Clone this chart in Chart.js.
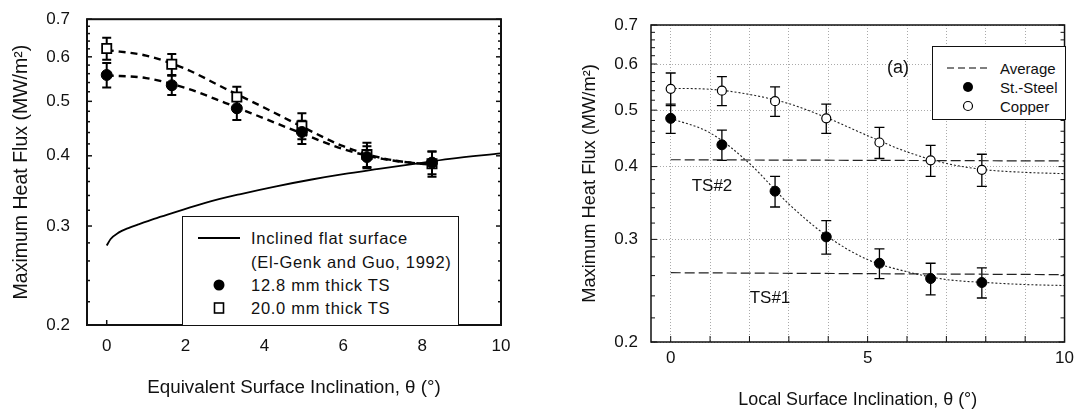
<!DOCTYPE html>
<html>
<head>
<meta charset="utf-8">
<script src="https://cdn.jsdelivr.net/npm/chart.js@4.4.1/dist/chart.umd.min.js"></script>
<style>
  html, body { margin: 0; padding: 0; background: #fff; }
  body { width: 1080px; height: 416px; position: relative; overflow: hidden;
         font-family: "Liberation Sans", Arial, sans-serif; color: #111; }
  canvas { position: absolute; top: 0; }
  #leftChart { left: 0; }
  #rightChart { left: 560px; }
  .box { position: absolute; border: 1.5px solid #111; background: #fff; box-sizing: border-box; }
  .txt { position: absolute; white-space: nowrap; line-height: 1; transform: translateY(-50%); }
  .mid { transform: translate(-50%, -50%); }
  .lg { font-size: 16.5px; letter-spacing: 0.7px; }
  svg.sym { position: absolute; left: 0; top: 0; }
</style>
</head>
<body>
<canvas id="leftChart" width="540" height="416"></canvas>
<canvas id="rightChart" width="520" height="416"></canvas>

<!-- left legend -->
<div class="box" style="left:182px; top:216px; width:277px; height:110px;"></div>
<div class="txt lg" style="left:251px; top:238px;">Inclined flat surface</div>
<div class="txt lg" style="left:251px; top:262px;">(El-Genk and Guo, 1992)</div>
<div class="txt lg" style="left:251px; top:285px;">12.8 mm thick TS</div>
<div class="txt lg" style="left:251px; top:308px;">20.0 mm thick TS</div>

<!-- right legend + notes -->
<div class="box" style="left:932px; top:46px; width:134px; height:74px;"></div>
<div class="txt" style="left:1000px; top:68px; font-size:15px;">Average</div>
<div class="txt" style="left:1000px; top:87px; font-size:15px;">St.-Steel</div>
<div class="txt" style="left:1000px; top:106px; font-size:15px;">Copper</div>
<div class="txt mid" style="left:898px; top:67px; font-size:18px;">(a)</div>
<div class="txt mid" style="left:712px; top:185px; font-size:17px;">TS#2</div>
<div class="txt mid" style="left:770px; top:297px; font-size:17px;">TS#1</div>

<svg class="sym" width="1080" height="416">
  <line x1="198" y1="238" x2="240" y2="238" stroke="#000" stroke-width="2"/>
  <circle cx="219" cy="285" r="5.5" fill="#000"/>
  <rect x="214.5" y="303" width="9" height="10" fill="#fff" stroke="#000" stroke-width="1.6"/>
  <line x1="947" y1="68" x2="990" y2="68" stroke="#000" stroke-width="1.2" stroke-dasharray="7,4"/>
  <circle cx="968" cy="87" r="5" fill="#000"/>
  <circle cx="968" cy="106" r="4.5" fill="#fff" stroke="#000" stroke-width="1.2"/>
</svg>

<script>
// ---- left panel: equivalent inclination ----
const leftPtX = [0, 1.65, 3.3, 4.95, 6.6, 8.25];
const thinTS = [0.557, 0.534, 0.486, 0.441, 0.398, 0.389];   // 12.8 mm
const thinErr = [0.028, 0.021, 0.023, 0.021, 0.018, 0.018];
const thickTS = [0.621, 0.582, 0.509, 0.452, 0.402, 0.387];  // 20.0 mm
const thickErr = [0.028, 0.025, 0.022, 0.024, 0.020, 0.020];
const leftFitX = [0, 1, 2, 3, 4, 5, 6, 7, 8, 8.25];
const thinFit = [0.556, 0.550, 0.528, 0.497, 0.466, 0.437, 0.411, 0.395, 0.387, 0.386];
const thickFit = [0.617, 0.603, 0.571, 0.527, 0.487, 0.449, 0.416, 0.396, 0.387, 0.386];
const flatX = [0, 0.1, 0.3, 0.55, 0.8, 1.2, 1.7, 2.5, 3.4, 4.3, 5.2, 6, 6.9, 7.8, 8.7, 10];
const flatY = [0.277, 0.2845, 0.292, 0.2975, 0.302, 0.309, 0.317, 0.330, 0.342, 0.353, 0.363, 0.371, 0.379, 0.387, 0.395, 0.404];
const leftXTicks = [0, 2, 4, 6, 8, 10];

// ---- right panel: local inclination ----
const rightPtX = [0, 1.3, 2.65, 3.95, 5.3, 6.6, 7.9];
const copper = [0.544, 0.540, 0.518, 0.484, 0.440, 0.410, 0.395];
const copperErr = [0.035, 0.031, 0.030, 0.028, 0.027, 0.025, 0.025];
const steel = [0.484, 0.436, 0.363, 0.303, 0.273, 0.257, 0.253];
const steelErr = [0.028, 0.026, 0.022, 0.020, 0.016, 0.016, 0.015];
const rightFitX = [0, 1, 2, 3, 4, 5, 6, 7, 8, 9, 10];
const copperFit = [0.545, 0.543, 0.532, 0.513, 0.484, 0.452, 0.424, 0.405, 0.395, 0.391, 0.389];
const steelFit = [0.484, 0.457, 0.405, 0.345, 0.303, 0.277, 0.264, 0.256, 0.253, 0.251, 0.250];
const avgX = [0, 10];
const avgTS2 = [0.411, 0.409];
const avgTS1 = [0.263, 0.261];
const rightXTicks = [0, 1, 2, 3, 4, 5, 6, 7, 8, 9, 10];
const rightXLabels = [0, 5, 10];

const yMajor = [0.2, 0.3, 0.4, 0.5, 0.6, 0.7];
const yMinor = [0.22, 0.24, 0.26, 0.28, 0.32, 0.34, 0.36, 0.38, 0.42, 0.44, 0.46, 0.48,
                0.52, 0.54, 0.56, 0.58, 0.62, 0.64, 0.66, 0.68];

Chart.defaults.font.family = '"Liberation Sans", Arial, sans-serif';
Chart.defaults.color = '#111';

function pts(xs, ys) {
  return xs.map((x, i) => ({ x: x, y: ys[i] }));
}

// box round the plot and short ticks pointing inwards
function makeFrame(cfg) {
  return {
    id: 'frame',
    afterDraw(chart) {
      const { ctx, chartArea: a, scales: { x, y } } = chart;
      ctx.save();
      ctx.strokeStyle = '#111';
      const seg = (x1, y1, x2, y2) => { ctx.beginPath(); ctx.moveTo(x1, y1); ctx.lineTo(x2, y2); ctx.stroke(); };
      ctx.lineWidth = cfg.tickWidth;
      yMajor.forEach(v => {
        const py = y.getPixelForValue(v);
        seg(a.left, py, a.left + cfg.major, py);
        seg(a.right, py, a.right - cfg.major, py);
      });
      yMinor.forEach(v => {
        const py = y.getPixelForValue(v);
        seg(a.left, py, a.left + cfg.minor, py);
        seg(a.right, py, a.right - cfg.minor, py);
      });
      cfg.xTicks.forEach(v => {
        const px = x.getPixelForValue(v);
        seg(px, a.bottom, px, a.bottom - cfg.major);
      });
      ctx.lineWidth = cfg.width;
      ctx.strokeRect(a.left, a.top, a.right - a.left, a.bottom - a.top);
      ctx.restore();
    }
  };
}

const errorBarPlugin = {
  id: 'errorBars',
  beforeDatasetsDraw(chart) {
    const { ctx, scales: { y } } = chart;
    chart.data.datasets.forEach((ds, i) => {
      if (!ds.errorBars) return;
      const meta = chart.getDatasetMeta(i);
      ctx.save();
      ctx.strokeStyle = '#000';
      ctx.lineWidth = ds.errorWidth;
      meta.data.forEach((pt, j) => {
        const v = ds.data[j].y, e = ds.errorBars[j];
        const top = y.getPixelForValue(v + e), bot = y.getPixelForValue(v - e);
        const c = ds.capHalf;
        ctx.beginPath();
        ctx.moveTo(pt.x, top); ctx.lineTo(pt.x, bot);
        ctx.moveTo(pt.x - c, top); ctx.lineTo(pt.x + c, top);
        ctx.moveTo(pt.x - c, bot); ctx.lineTo(pt.x + c, bot);
        ctx.stroke();
      });
      ctx.restore();
    });
  }
};

const yTitle = 'Maximum Heat Flux (MW/m\u00B2)';

new Chart(document.getElementById('leftChart'), {
  type: 'scatter',
  data: {
    datasets: [
      { label: '12.8 mm thick TS', data: pts(leftPtX, thinTS), errorBars: thinErr, errorWidth: 2, capHalf: 4.5,
        pointStyle: 'circle', pointRadius: 5.5, backgroundColor: '#000', borderColor: '#000', borderWidth: 1 },
      { label: '20.0 mm thick TS', data: pts(leftPtX, thickTS), errorBars: thickErr, errorWidth: 2, capHalf: 4.5,
        pointStyle: 'rect', pointRadius: 6.5, backgroundColor: '#fff', borderColor: '#000', borderWidth: 1.8 },
      { label: 'fit 12.8', data: pts(leftFitX, thinFit), showLine: true, pointRadius: 0,
        borderColor: '#000', borderWidth: 2.4, borderDash: [7, 5], cubicInterpolationMode: 'monotone' },
      { label: 'fit 20.0', data: pts(leftFitX, thickFit), showLine: true, pointRadius: 0,
        borderColor: '#000', borderWidth: 2.4, borderDash: [7, 5], cubicInterpolationMode: 'monotone' },
      { label: 'Inclined flat surface', data: pts(flatX, flatY), showLine: true, pointRadius: 0,
        borderColor: '#000', borderWidth: 1.8, cubicInterpolationMode: 'monotone' }
    ]
  },
  options: {
    animation: false,
    responsive: false,
    layout: { padding: { top: 15, right: 39, left: 0, bottom: 0 } },
    plugins: { legend: { display: false }, tooltip: { enabled: false } },
    scales: {
      x: {
        type: 'linear', min: -0.5, max: 10,
        afterBuildTicks: s => { s.ticks = leftXTicks.map(v => ({ value: v })); },
        afterFit: s => { s.height = 91; },
        grid: { display: false }, border: { display: false },
        ticks: { padding: 3, font: { size: 17 }, callback: v => String(v) },
        title: { display: true, text: 'Equivalent Surface Inclination, \u03B8 (\u00B0)', font: { size: 18.8 }, padding: { top: 0, bottom: 16.5 } }
      },
      y: {
        type: 'logarithmic', min: 0.2, max: 0.7,
        afterBuildTicks: s => { s.ticks = yMajor.map(v => ({ value: v })); },
        afterFit: s => { s.width = 87; },
        grid: { display: false }, border: { display: false },
        ticks: { padding: 9, font: { size: 17 }, callback: v => Number(v).toFixed(1) },
        title: { display: true, text: yTitle, font: { size: 19.5 }, padding: { top: 10, bottom: 0 } }
      }
    }
  },
  plugins: [makeFrame({ width: 2, tickWidth: 1.5, major: 5, minor: 3, xTicks: leftXTicks }), errorBarPlugin]
});

new Chart(document.getElementById('rightChart'), {
  type: 'scatter',
  data: {
    datasets: [
      { label: 'St.-Steel', data: pts(rightPtX, steel), errorBars: steelErr, errorWidth: 1.3, capHalf: 5,
        pointStyle: 'circle', pointRadius: 5, backgroundColor: '#000', borderColor: '#000', borderWidth: 1 },
      { label: 'Copper', data: pts(rightPtX, copper), errorBars: copperErr, errorWidth: 1.3, capHalf: 5,
        pointStyle: 'circle', pointRadius: 4.5, backgroundColor: '#fff', borderColor: '#000', borderWidth: 1.2 },
      { label: 'steel fit', data: pts(rightFitX, steelFit), showLine: true, pointRadius: 0,
        borderColor: '#222', borderWidth: 1.1, borderDash: [2, 2], cubicInterpolationMode: 'monotone' },
      { label: 'copper fit', data: pts(rightFitX, copperFit), showLine: true, pointRadius: 0,
        borderColor: '#222', borderWidth: 1.1, borderDash: [2, 2], cubicInterpolationMode: 'monotone' },
      { label: 'Average TS#2', data: pts(avgX, avgTS2), showLine: true, pointRadius: 0,
        borderColor: '#222', borderWidth: 1.2, borderDash: [10, 4] },
      { label: 'Average TS#1', data: pts(avgX, avgTS1), showLine: true, pointRadius: 0,
        borderColor: '#222', borderWidth: 1.2, borderDash: [10, 4] }
    ]
  },
  options: {
    animation: false,
    responsive: false,
    layout: { padding: { top: 25, right: 13, left: 0, bottom: 0 } },
    plugins: { legend: { display: false }, tooltip: { enabled: false } },
    scales: {
      x: {
        type: 'linear', min: -0.5, max: 10,
        afterBuildTicks: s => { s.ticks = rightXTicks.map(v => ({ value: v })); },
        afterFit: s => { s.height = 74; },
        grid: { color: '#aaa', lineWidth: 1, drawTicks: false },
        border: { display: false, dash: [1, 2] },
        ticks: { padding: 6, font: { size: 17 }, callback: v => rightXLabels.includes(v) ? String(v) : '' },
        title: { display: true, text: 'Local Surface Inclination, \u03B8 (\u00B0)', font: { size: 17.9 }, padding: { top: 0, bottom: 5 } }
      },
      y: {
        type: 'logarithmic', min: 0.2, max: 0.7,
        afterBuildTicks: s => { s.ticks = yMajor.map(v => ({ value: v })); },
        afterFit: s => { s.width = 91; },
        grid: { color: '#aaa', lineWidth: 1, drawTicks: false },
        border: { display: false, dash: [1, 2] },
        ticks: { padding: 13, font: { size: 17 }, callback: v => Number(v).toFixed(1) },
        title: { display: true, text: yTitle, font: { size: 18.3 }, padding: { top: 19, bottom: 0 } }
      }
    }
  },
  plugins: [makeFrame({ width: 1.5, tickWidth: 1, major: 6, minor: 4, xTicks: rightXTicks }), errorBarPlugin]
});
</script>
</body>
</html>
